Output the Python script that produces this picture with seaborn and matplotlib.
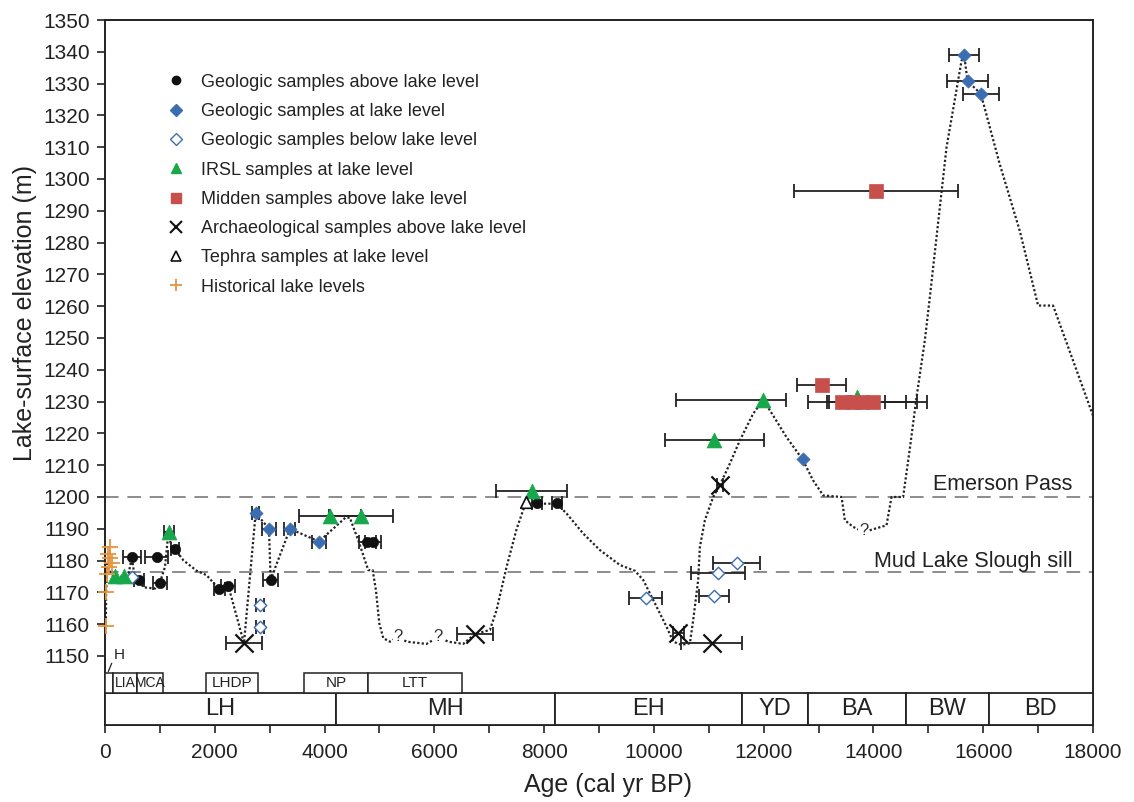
import numpy as np
import pandas as pd
import matplotlib
matplotlib.use("Agg")
import matplotlib.pyplot as plt
from matplotlib.patches import Rectangle
from matplotlib.lines import Line2D
import seaborn as sns

sns.set_theme(style="ticks")
plt.rcParams['font.family'] = ['Liberation Sans', 'DejaVu Sans']

# ---------------- data ----------------
# lake-level reconstruction (dotted curve)
lake_x = [15, 20, 40, 100, 190, 340, 430, 490, 546, 619, 700, 911, 1002, 1093, 1153, 1214, 1275, 1427,
          1670, 1852, 2082, 2246, 2532, 2745, 2987, 3018, 3370, 3898, 4380, 4460, 4614, 4736, 4796,
          4876, 4936, 4997, 5070, 5191, 5343, 5495, 5859, 6071, 6253, 6527, 6740, 7013, 7133, 7316,
          7500, 7669, 7863, 8227, 8410, 8713, 9017, 9381, 9654, 9806, 10049, 10231, 10352, 10504,
          10656, 10716, 10807, 10838, 10929, 11080, 11202, 11384, 11566, 11809, 11991, 12173, 12417,
          12709, 12902, 13084, 13419, 13479, 13630, 13825, 14238, 14329, 14541, 14663, 14785, 14936,
          15027, 15331, 15604, 15653, 15714, 15956, 16302, 16666, 17000, 17273, 18000]
lake_y = [1159, 1170, 1179, 1176, 1175, 1175, 1176, 1181, 1174, 1174, 1171.6, 1171.2, 1173.2, 1178,
          1188.5, 1184.3, 1183.6, 1180.1, 1176.8, 1175.4, 1170.9, 1172.1, 1154, 1195, 1190, 1174,
          1190, 1186, 1193.5, 1193.5, 1186.4, 1180.1, 1177, 1177, 1170.7, 1160.3, 1155.6, 1154.5,
          1156, 1154.5, 1153.8, 1156, 1154.5, 1153.8, 1156.9, 1158.2, 1164.4, 1178, 1190, 1198.4,
          1197.9, 1197.9, 1194.8, 1188.5, 1183.3, 1178.6, 1176.8, 1173.9, 1165.5, 1159.2, 1154.5,
          1153.5, 1154, 1161.3, 1173.9, 1184.3, 1192.7, 1200, 1203.7, 1210.5, 1217.8, 1226.2, 1230.6,
          1225.6, 1218.8, 1211.8, 1205.2, 1200.5, 1200, 1192.7, 1190.6, 1189, 1191.1, 1200, 1200,
          1215.2, 1231.4, 1249.2, 1262.8, 1309.9, 1337.1, 1338.9, 1330.8, 1326.8, 1304.6, 1283.7,
          1260.2, 1260.2, 1225.6]

# geologic samples above lake level
geo_above_x = [490, 941, 619, 1002, 1275, 2082, 2246, 3018, 4780, 4880, 7863, 8227]
geo_above_y = [1181, 1181, 1174, 1173, 1183.6, 1171, 1172, 1174, 1186, 1186, 1198, 1198]
geo_above_err = [170, 210, 90, 130, 70, 100, 130, 140, 150, 150, 90, 90]

# geologic samples at lake level
geo_at_x = [2745, 2987, 3370, 3898, 12709, 15653, 15714, 15956]
geo_at_y = [1195, 1190, 1190, 1186, 1211.8, 1339, 1330.8, 1326.8]
geo_at_err = [60, 130, 100, 130, 0, 270, 370, 325]

# geologic samples below lake level
geo_below_x = [486, 2823, 2823, 9848, 11506, 11171, 11093]
geo_below_y = [1174.7, 1165.9, 1159.2, 1168.1, 1179.1, 1176, 1168.9]
geo_below_err = [0, 80, 80, 300, 425, 490, 280]

# IRSL samples at lake level
irsl_x = [190, 340, 1166, 4098, 4663, 7772, 11100, 11991, 13693]
irsl_y = [1175, 1175, 1189, 1194, 1194, 1202, 1218, 1230.6, 1231.5]
irsl_err_lo = [0, 0, 90, 560, 580, 650, 900, 1590, 0]
irsl_err_hi = [0, 0, 90, 560, 580, 650, 900, 410, 0]

# midden samples above lake level
midden_x = [14044, 13055, 13429, 13630, 13783, 13984]
midden_y = [1296.3, 1235.1, 1230, 1230, 1230, 1230]
midden_err_lo = [1500, 447, 624, 480, 593, 394]
midden_err_hi = [1500, 447, 779, 960, 1002, 989]

# archaeological samples above lake level
arch_x = [2532, 6740, 10443, 11050, 11202]
arch_y = [1154, 1156.9, 1157.1, 1154, 1203.7]
arch_err = [320, 320, 100, 550, 60]

# tephra samples at lake level
tephra_x = [7669]
tephra_y = [1198.4]

# historical lake levels
hist_x = [90, 60, 100, 120, 70, 40, 20, 25]
hist_y = [1184.3, 1182.2, 1180.7, 1179.4, 1178, 1175.9, 1170.2, 1159.5]

# question marks on the curve
q_x = [5343, 6071, 13825]
q_y = [1156, 1156, 1189.5]

# thresholds
sill_names = ["Emerson Pass", "Mud Lake Slough sill"]
sill_levels = [1200, 1176.5]

# climatic periods (main bar)
per_names = ["LH", "MH", "EH", "YD", "BA", "BW", "BD"]
per_start = [0, 4200, 8200, 11600, 12800, 14600, 16100]
per_end = [4200, 8200, 11600, 12800, 14600, 16100, 18000]

# sub-periods
sub_names = ["", "LIA", "MCA", "LHDP", "NP", "LTT"]
sub_start = [0, 140, 590, 1840, 3625, 4797]
sub_end = [140, 590, 1050, 2793, 4797, 6497]

# ---------------- figure ----------------
fig = plt.figure(figsize=(11.34, 8.02), dpi=100)
ax = fig.add_axes([105/1134, 1-725/802, 988/1134, 705/802])

YBOT, YMID, YTOP = 1128.3, 1138.3, 1144.6
ax.set_xlim(0, 18000)
ax.set_ylim(YBOT, 1350)

# threshold lines
label_offsets = [3.8, 3.1]
for name, lev, off in zip(sill_names, sill_levels, label_offsets):
    ax.axhline(lev, color="#8c8c8c", lw=1.4, ls=(0, (7, 4.5)), zorder=1)
    ax.text(17630, lev + off, name, ha="right", va="center", fontsize=15.5, color="#222222")

# lake curve
curve = pd.DataFrame({"age": lake_x, "elev": lake_y})
sns.lineplot(data=curve, x="age", y="elev", sort=False, estimator=None, ax=ax,
             color="#222222", lw=1.6, ls=(0, (1, 1)), zorder=2)

ebkw = dict(fmt="none", ecolor="#222222", elinewidth=1.3, capsize=5, capthick=1.3, zorder=3)

def bars(x, y, lo, hi=None):
    hi = lo if hi is None else hi
    x = np.asarray(x); lo = np.asarray(lo); hi = np.asarray(hi)
    m = (lo > 0) | (hi > 0)
    if m.any():
        ax.errorbar(x[m], np.asarray(y)[m], xerr=[lo[m], hi[m]], **ebkw)

bars(geo_above_x, geo_above_y, geo_above_err)
bars(geo_at_x, geo_at_y, geo_at_err)
bars(geo_below_x, geo_below_y, geo_below_err)
bars(irsl_x, irsl_y, irsl_err_lo, irsl_err_hi)
bars(midden_x, midden_y, midden_err_lo, midden_err_hi)
bars(arch_x, arch_y, arch_err)

BLUE = "#3b6db3"
GREEN = "#16a84a"
RED = "#c8504c"
ORANGE = "#e8943e"

sns.scatterplot(x=geo_above_x, y=geo_above_y, ax=ax, marker="o", s=55, color="#111111",
                edgecolor="#111111", linewidth=0.5, zorder=4)
sns.scatterplot(x=geo_at_x, y=geo_at_y, ax=ax, marker="D", s=45, color=BLUE,
                edgecolor=BLUE, linewidth=0.5, zorder=4)
sns.scatterplot(x=geo_below_x, y=geo_below_y, ax=ax, marker="D", s=40, facecolor="white",
                edgecolor=BLUE, linewidth=1.0, zorder=4)
sns.scatterplot(x=irsl_x, y=irsl_y, ax=ax, marker="^", s=115, color=GREEN,
                edgecolor=GREEN, linewidth=0.5, zorder=4)
sns.scatterplot(x=midden_x, y=midden_y, ax=ax, marker="s", s=95, color=RED,
                edgecolor=RED, linewidth=0.5, zorder=5)
sns.scatterplot(x=arch_x, y=arch_y, ax=ax, marker="x", s=170, color="#111111",
                linewidth=1.6, zorder=5)
sns.scatterplot(x=tephra_x, y=tephra_y, ax=ax, marker="^", s=70, facecolor="white",
                edgecolor="#111111", linewidth=1.2, zorder=4)
sns.scatterplot(x=hist_x, y=hist_y, ax=ax, marker="+", s=140, color=ORANGE,
                linewidth=1.3, zorder=4, clip_on=False)

for qx, qy in zip(q_x, q_y):
    ax.text(qx, qy, "?", ha="center", va="center", fontsize=12, color="#333333", zorder=6,
            bbox=dict(boxstyle="square,pad=0.05", fc="white", ec="none"))

# period boxes
for name, a, b in zip(per_names, per_start, per_end):
    ax.add_patch(Rectangle((a, YBOT), b - a, YMID - YBOT, fc="white", ec="#222222", lw=1.3,
                           zorder=3, clip_on=False))
    ax.text((a + b) / 2, (YBOT + YMID) / 2, name, ha="center", va="center", fontsize=17,
            color="#222222", zorder=4)
for name, a, b in zip(sub_names, sub_start, sub_end):
    ax.add_patch(Rectangle((a, YMID), b - a, YTOP - YMID, fc="white", ec="#222222", lw=1.1,
                           zorder=3))
    fs = 10 if name in ("LIA", "MCA") else 11
    ax.text((a + b) / 2, (YMID + YTOP) / 2, name, ha="center", va="center", fontsize=fs,
            color="#222222", zorder=4)
ax.text(152, 1150.3, "H", ha="left", va="center", fontsize=11, color="#222222")
ax.plot([60, 122], [1145.1, 1147.7], color="#222222", lw=0.9)

# axes styling
ax.set_yticks(np.arange(1150, 1351, 10))
ax.set_xticks(np.arange(0, 18001, 1000))
ax.set_xticklabels([str(v) if v % 2000 == 0 else "" for v in range(0, 18001, 1000)])
ax.tick_params(axis="both", direction="out", length=6, width=1.2, color="#222222",
               labelsize=15, labelcolor="#222222", pad=5)
ax.tick_params(axis="x", pad=7)
for sp in ax.spines.values():
    sp.set_color("#222222")
    sp.set_linewidth(1.4)
ax.set_xlabel("Age (cal yr BP)", fontsize=18, color="#222222")
ax.set_ylabel("Lake-surface elevation (m)", fontsize=18, color="#222222")
ax.xaxis.set_label_coords(0.509, -0.085)
ax.yaxis.set_label_coords(-0.081, 0.584)
ax.xaxis.label.set_va("center")
ax.yaxis.label.set_va("center")

# legend
handles = [
    Line2D([], [], ls="none", marker="o", ms=6, color="#111111"),
    Line2D([], [], ls="none", marker="D", ms=6, color=BLUE),
    Line2D([], [], ls="none", marker="D", ms=6, mfc="white", mec=BLUE, mew=1.0),
    Line2D([], [], ls="none", marker="^", ms=7, color=GREEN),
    Line2D([], [], ls="none", marker="s", ms=6.5, color=RED),
    Line2D([], [], ls="none", marker="x", ms=8, color="#111111", mew=1.5),
    Line2D([], [], ls="none", marker="^", ms=6.5, mfc="white", mec="#111111", mew=1.2),
    Line2D([], [], ls="none", marker="+", ms=9, color=ORANGE, mew=1.3),
]
labels = ["Geologic samples above lake level", "Geologic samples at lake level",
          "Geologic samples below lake level", "IRSL samples at lake level",
          "Midden samples above lake level", "Archaeological samples above lake level",
          "Tephra samples at lake level", "Historical lake levels"]
leg = ax.legend(handles, labels, loc="upper left", bbox_to_anchor=(0.055, 0.934), frameon=False,
                fontsize=13, handlelength=1.0, handletextpad=0.9, labelspacing=0.68,
                borderaxespad=0)
for t in leg.get_texts():
    t.set_color("#222222")

fig.savefig("out.png", dpi=100)
